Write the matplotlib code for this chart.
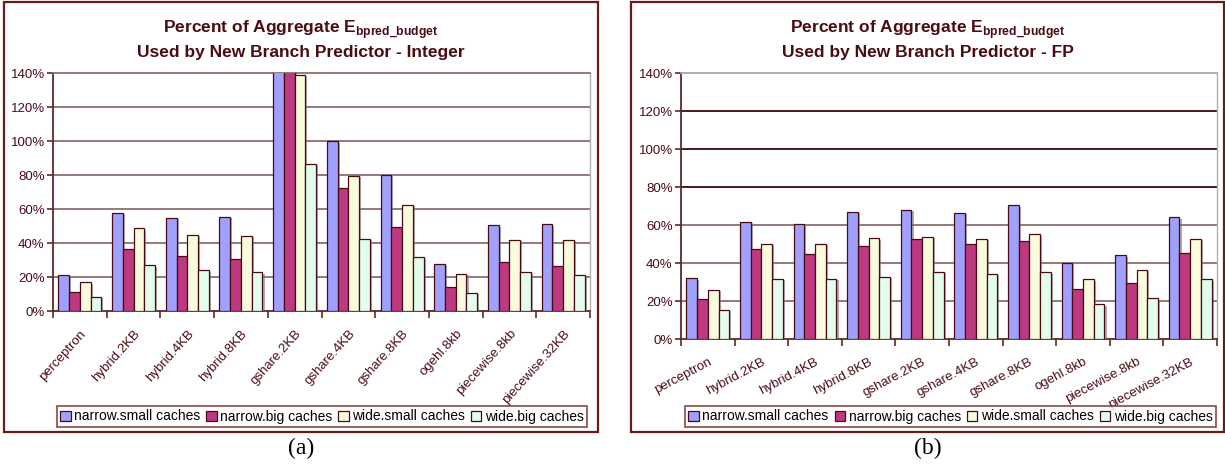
import matplotlib
matplotlib.use("Agg")
import matplotlib.pyplot as plt
import matplotlib.patheffects as pe
from matplotlib.patches import Rectangle
import numpy as np

plt.rcParams['font.family'] = ['Liberation Sans', 'DejaVu Sans']
plt.rcParams['mathtext.fontset'] = 'custom'
plt.rcParams['mathtext.bf'] = 'Liberation Sans:bold'
plt.rcParams['mathtext.rm'] = 'Liberation Sans'

categories = ["perceptron", "hybrid.2KB", "hybrid.4KB", "hybrid.8KB", "gshare.2KB",
              "gshare.4KB", "gshare.8KB", "ogehl.8kb", "piecewise.8kb", "piecewise.32KB"]
series_names = ["narrow.small caches", "narrow.big caches", "wide.small caches", "wide.big caches"]

# Integer (a) - values in percent (gshare.2KB first two go off the chart)
int_narrow_small = [21.4, 57.6, 54.9, 55.3, 175.0, 99.9, 80.2, 27.7, 50.3, 51.1]
int_narrow_big = [11.2, 36.2, 32.2, 30.7, 160.0, 72.2, 49.2, 14.2, 29.1, 26.7]
int_wide_small = [16.9, 48.6, 45.0, 44.4, 139.0, 79.6, 62.5, 22.0, 41.9, 41.9]
int_wide_big = [8.5, 26.9, 24.0, 22.8, 86.7, 42.3, 31.5, 10.8, 23.2, 21.0]

# FP (b)
fp_narrow_small = [31.9, 61.6, 60.7, 67.1, 68.1, 66.5, 70.4, 40.1, 44.1, 64.1]
fp_narrow_big = [21.2, 47.3, 44.5, 48.7, 52.4, 50.0, 51.4, 26.3, 29.7, 45.4]
fp_wide_small = [25.8, 50.1, 50.1, 53.0, 53.8, 52.8, 55.1, 31.4, 36.5, 52.8]
fp_wide_big = [15.4, 31.6, 31.6, 32.8, 35.3, 34.4, 35.1, 18.2, 21.4, 31.4]

yticks = [0, 20, 40, 60, 80, 100, 120, 140]

colors = ["#A0A0FF", "#BE3A80", "#FAFADC", "#E2FDEB"]
edge = "#4A0A14"
txt = "#4A0C12"
grid_c = "#8E6E6E"

fig = plt.figure(figsize=(12.25, 4.66), dpi=100)


def panel(rect, frame, data, title_sub, rot, pad, caption, leg_x, dark_grid):
    ax = fig.add_axes(rect)
    x = np.arange(len(categories))
    w = 0.2
    for i, vals in enumerate(data):
        ax.bar(x + (i - 1.5) * w, vals, w, color=colors[i], edgecolor=edge, linewidth=0.9,
               zorder=3, label=series_names[i],
               path_effects=[pe.SimplePatchShadow(offset=(1.5, -1), shadow_rgbFace="#8a7070", alpha=0.6),
                             pe.Normal()])
    ax.set_xlim(-0.5, len(categories) - 0.5)
    ax.set_ylim(0, 140)
    for yv in yticks[1:-1]:
        c = "#3A0A0A" if (dark_grid and yv >= 80) else grid_c
        ax.axhline(yv, color=c, lw=1.3, zorder=1)
    ax.set_yticks(yticks)
    ax.set_yticklabels([f"{v}%" for v in yticks], color=txt, fontsize=9.5)
    ax.set_xticks(x)
    ax.set_xticklabels(categories, rotation=rot, ha="right", rotation_mode="anchor",
                       color=txt, fontsize=9.5)
    ax.set_xticks(np.arange(-0.5, len(categories)), minor=True)
    ax.tick_params(axis="x", which="major", length=0, pad=pad)
    ax.tick_params(axis="x", which="minor", length=5, width=1.2, color="#5A2A2A", direction="out")
    ax.tick_params(axis="y", length=4, width=1.2, color="#5A2A2A", pad=2)
    for s in ["left", "bottom"]:
        ax.spines[s].set_color("#5A2A2A")
        ax.spines[s].set_linewidth(1.3)
    ax.spines["top"].set_color(grid_c if not dark_grid else "#B0A4A4")
    ax.spines["top"].set_linewidth(1.3)
    ax.spines["right"].set_color("#B8ACAC")
    ax.spines["right"].set_linewidth(1.0)

    # panel frame
    fx0, fy0, fx1, fy1 = frame
    fig.add_artist(Rectangle((fx0, fy0), fx1 - fx0, fy1 - fy0, transform=fig.transFigure,
                             fill=False, edgecolor="#6B1A1A", lw=1.6))
    cx = (fx0 + fx1) / 2
    fig.text(cx, 1 - 33 / 466, r"Percent of Aggregate E$_{\mathbf{bpred\_budget}}$",
             ha="center", va="baseline", fontsize=12.5, fontweight="bold", color=txt)
    fig.text(cx, 1 - 57 / 466, "Used by New Branch Predictor - " + title_sub,
             ha="center", va="baseline", fontsize=12.5, fontweight="bold", color=txt)

    handles, labels = ax.get_legend_handles_labels()
    leg = fig.legend(handles, labels, loc="center", ncol=4, mode="expand",
                     bbox_to_anchor=(leg_x[0], 1 - 427 / 466, leg_x[1] - leg_x[0], 21 / 466),
                     fontsize=10, frameon=True, fancybox=False, edgecolor="#6B1A1A",
                     handlelength=0.75, handleheight=0.75, handletextpad=0.25,
                     columnspacing=0.4, borderpad=0.25, borderaxespad=0)
    leg.get_frame().set_linewidth(1.2)
    for t in leg.get_texts():
        t.set_color("black")
    for h in leg.legend_handles:
        h.set_path_effects([])
    fig.text(cx, 1 - 448 / 466, caption, ha="center", va="center", fontsize=17,
             family=["Liberation Serif", "DejaVu Serif"], color="black")
    return ax


panel([53 / 1225, 1 - 311 / 466, 537 / 1225, 238 / 466],
      (4 / 1225, 1 - 432 / 466, 598 / 1225, 1 - 2 / 466),
      [int_narrow_small, int_narrow_big, int_wide_small, int_wide_big],
      "Integer", 48, 12, "(a)", (57 / 1225, 587 / 1225), False)

panel([681 / 1225, 1 - 339 / 466, 536 / 1225, 266 / 466],
      (631 / 1225, 1 - 432 / 466, 1224 / 1225, 1 - 2 / 466),
      [fp_narrow_small, fp_narrow_big, fp_wide_small, fp_wide_big],
      "FP", 28, 12, "(b)", (685 / 1225, 1216 / 1225), True)

fig.savefig("out.png", dpi=100)
